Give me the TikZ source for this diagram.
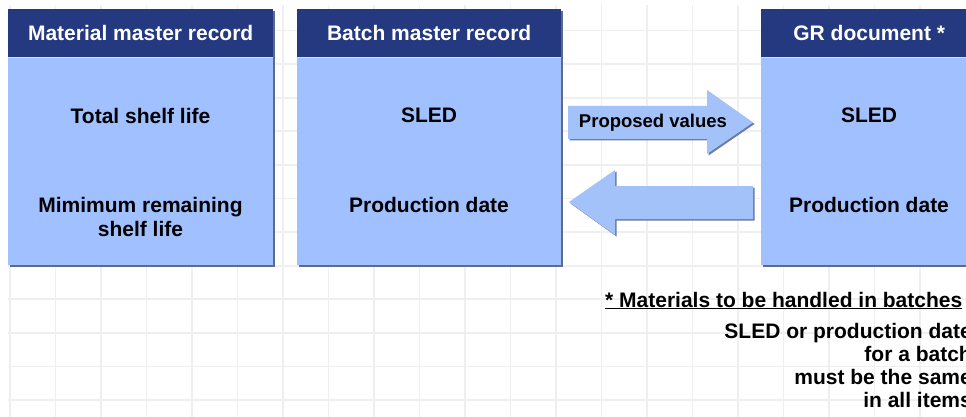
\documentclass[tikz,border=0pt]{standalone}
\usepackage{fontspec}
\setmainfont{Liberation Sans}
\usetikzlibrary{shadows}
\definecolor{hdrblue}{RGB}{37,57,128}
\definecolor{bodyblue}{RGB}{160,192,255}
\definecolor{arrowblue}{RGB}{164,194,250}
\definecolor{shadowc}{RGB}{92,106,140}
\definecolor{gridc}{RGB}{239,239,239}
\begin{document}
\begin{tikzpicture}[x=1pt,y=-1pt,
  gridline/.style={draw=gridc, line width=1.8pt},
  boxshadow/.style={drop shadow={shadow xshift=1.8pt, shadow yshift=-1.8pt, fill=shadowc, opacity=1}},
  boxhdr/.style={anchor=north west, inner sep=0pt, minimum height=48pt, fill=hdrblue,
    text=white, font=\fontsize{21}{24}\selectfont\bfseries, boxshadow},
  boxbody/.style={anchor=north west, inner sep=0pt, minimum height=208pt, fill=bodyblue, boxshadow},
  sepline/.style={draw=bodyblue!55!white, line width=0.8pt},
  bodytext/.style={inner sep=0pt, align=center, font=\fontsize{21}{24}\selectfont\bfseries},
  blockarrow/.style={fill=arrowblue},
  arrowshadow/.style={fill=shadowc!80!arrowblue},
  notetext/.style={inner sep=0pt, font=\fontsize{21}{23}\selectfont\bfseries}
]
\useasboundingbox (0,0) rectangle (966,417);
\clip (0,0) rectangle (966,417);
\fill[white] (0,0) rectangle (966,417);

% background grid
\foreach \i in {0,...,20} \draw[gridline] (10+45.5*\i,5) -- (10+45.5*\i,417);
\foreach \j in {0,...,11} \draw[gridline] (8,30.5+33.6*\j) -- (966,30.5+33.6*\j);

% box 1
\node[boxhdr, minimum width=265pt] (h1) at (8,9) {Material master record};
\node[boxbody, minimum width=265pt] (b1) at (8,57) {};
\draw[sepline] (h1.south west) -- (h1.south east);
\node[bodytext] (t1a) at (140.5,115.5) {Total shelf life};
\node[bodytext] (t1b) at (140.5,217) {Mimimum remaining\\shelf life};

% box 2
\node[boxhdr, minimum width=264pt] (h2) at (297,9) {Batch master record};
\node[boxbody, minimum width=264pt] (b2) at (297,57) {};
\draw[sepline] (h2.south west) -- (h2.south east);
\node[bodytext] (t2a) at (429,115.5) {SLED};
\node[bodytext] (t2b) at (429,204.5) {Production date};

% box 3
\node[boxhdr, minimum width=216pt] (h3) at (761,9) {GR document *};
\node[boxbody, minimum width=216pt] (b3) at (761,57) {};
\draw[sepline] (h3.south west) -- (h3.south east);
\node[bodytext] (t3a) at (869,115.5) {SLED};
\node[bodytext] (t3b) at (869,204.5) {Production date};

% arrows between boxes
\coordinate (ra) at (568,122.5);
\coordinate (la) at (753,202.5);
\fill[arrowshadow] ([shift={(1.5,1.5)}]ra) -- ++(0,-16.5) -- ++(139,0) -- ++(0,-16) -- ++(46,32.5)
  -- ++(-46,31.5) -- ++(0,-15) -- ++(-139,0) -- cycle;
\fill[blockarrow] (ra) -- ++(0,-16.5) -- ++(139,0) -- ++(0,-16) -- ++(46,32.5)
  -- ++(-46,31.5) -- ++(0,-15) -- ++(-139,0) -- cycle;
\node[inner sep=0pt, font=\fontsize{18.5}{20}\selectfont\bfseries] (pv) at (653,123) {Proposed values};

\fill[arrowshadow] ([shift={(1.5,1.5)}]la) -- ++(0,-16.5) -- ++(-138,0) -- ++(0,-16) -- ++(-46,32)
  -- ++(46,33) -- ++(0,-16) -- ++(138,0) -- cycle;
\fill[blockarrow] (la) -- ++(0,-16.5) -- ++(-138,0) -- ++(0,-16) -- ++(-46,32)
  -- ++(46,33) -- ++(0,-16) -- ++(138,0) -- cycle;

% note
\node[notetext, anchor=base west] (n0) at (605,307) {\underline{* Materials to be handled in batches}};
\node[notetext, anchor=base east] (n1) at (972,338) {SLED or production date};
\node[notetext, anchor=base east] (n2) at (972,361) {for a batch};
\node[notetext, anchor=base east] (n3) at (972,384) {must be the same};
\node[notetext, anchor=base east] (n4) at (972,407.5) {in all items};
\end{tikzpicture}
\end{document}
